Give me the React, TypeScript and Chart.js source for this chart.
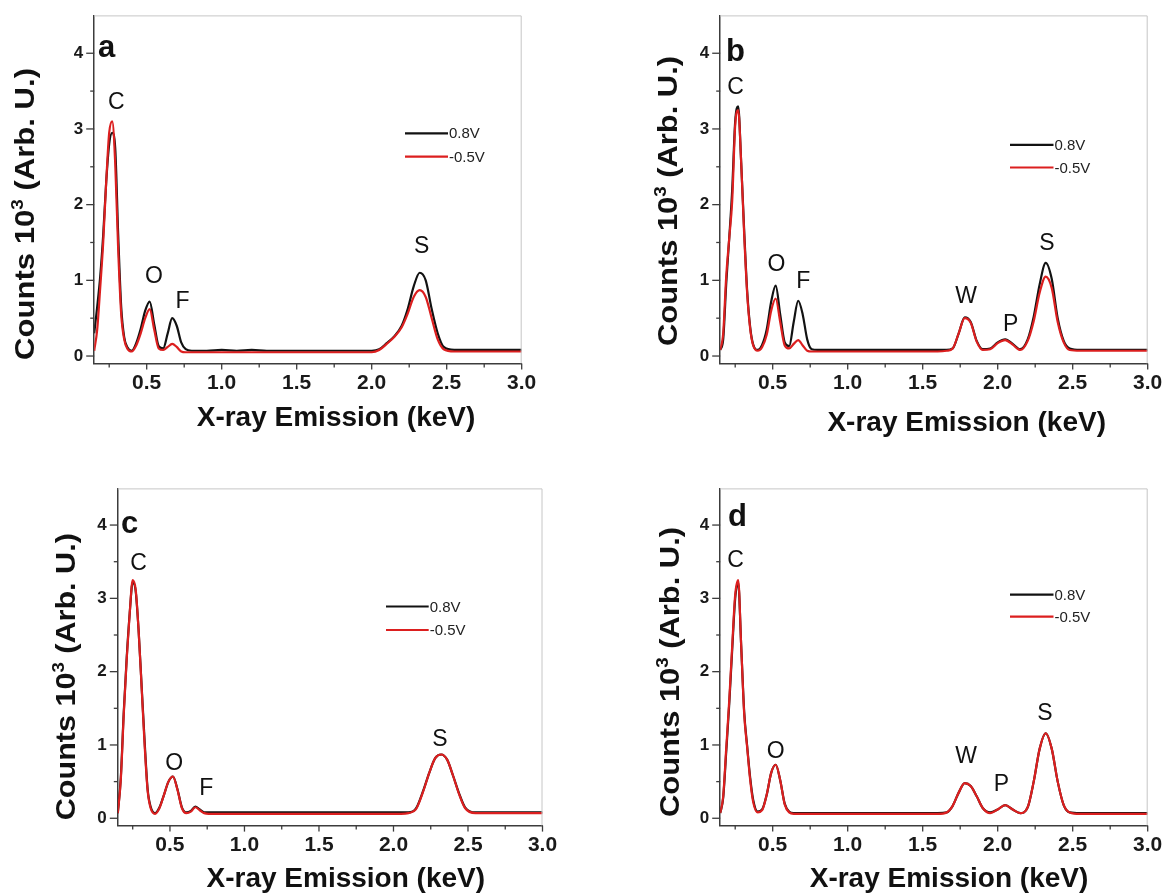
import React, { useEffect, useRef } from 'react';
import { Chart, registerables } from 'chart.js';

Chart.register(...registerables);

const FONT = "'Liberation Sans', Arial, Helvetica, sans-serif";
const BLACK = '#121212';
const RED = '#dc1f1f';
const AXIS = '#3c3c3c';

// ---------------- data ----------------
const energyKeV = [
  0.15, 0.17, 0.19, 0.21, 0.23, 0.25, 0.27, 0.29, 0.31, 0.33, 0.35, 0.37, 0.40,
  0.43, 0.46, 0.49, 0.52, 0.55, 0.58, 0.61, 0.64, 0.67, 0.70, 0.73, 0.76, 0.80,
  0.90, 1.00, 1.10, 1.20, 1.30, 1.40, 1.50, 1.60,
  1.66, 1.70, 1.74, 1.78, 1.82, 1.86, 1.90, 1.95,
  2.00, 2.05, 2.10, 2.15, 2.20,
  2.24, 2.28, 2.32, 2.36, 2.40, 2.44, 2.48,
  2.55, 2.65, 2.75, 2.85, 3.00,
];

const panelA_08V = [
  0.30, 0.65, 1.05, 1.60, 2.30, 2.80, 2.95, 2.75, 1.60, 0.65, 0.25, 0.12, 0.07,
  0.17, 0.36, 0.60, 0.72, 0.42, 0.13, 0.10, 0.30, 0.50, 0.40, 0.18, 0.09, 0.07,
  0.07, 0.08, 0.07, 0.08, 0.07, 0.07, 0.07, 0.07,
  0.07, 0.07, 0.07, 0.07, 0.07, 0.07, 0.07, 0.07,
  0.07, 0.09, 0.17, 0.26, 0.40,
  0.62, 0.92, 1.10, 1.00, 0.62, 0.30, 0.12,
  0.08, 0.08, 0.08, 0.08, 0.08,
];
const panelA_m05V = [
  0.07, 0.35, 0.90, 1.50, 2.30, 2.95, 3.10, 2.55, 1.40, 0.55, 0.22, 0.10, 0.06,
  0.14, 0.30, 0.50, 0.62, 0.35, 0.10, 0.08, 0.12, 0.16, 0.12, 0.06, 0.05, 0.05,
  0.05, 0.05, 0.05, 0.05, 0.05, 0.05, 0.05, 0.05,
  0.05, 0.05, 0.05, 0.05, 0.05, 0.05, 0.05, 0.05,
  0.05, 0.08, 0.16, 0.25, 0.38,
  0.56, 0.78, 0.87, 0.78, 0.50, 0.22, 0.09,
  0.06, 0.06, 0.06, 0.06, 0.06,
];

const panelB_08V = [
  0.08, 0.22, 0.95, 1.55, 2.20, 3.10, 3.30, 2.55, 1.65, 0.85, 0.38, 0.15, 0.08,
  0.15, 0.35, 0.72, 0.93, 0.55, 0.18, 0.13, 0.45, 0.73, 0.55, 0.22, 0.09, 0.08,
  0.08, 0.08, 0.08, 0.08, 0.08, 0.08, 0.08, 0.08,
  0.08, 0.10, 0.30, 0.51, 0.45, 0.20, 0.09, 0.10,
  0.18, 0.22, 0.16, 0.09, 0.22,
  0.52, 0.95, 1.23, 1.02, 0.50, 0.20, 0.10,
  0.08, 0.08, 0.08, 0.08, 0.08,
];
const panelB_m05V = [
  0.08, 0.30, 1.05, 1.55, 2.05, 3.05, 3.25, 2.55, 1.60, 0.82, 0.36, 0.14, 0.07,
  0.12, 0.28, 0.60, 0.76, 0.45, 0.14, 0.10, 0.16, 0.21, 0.14, 0.07, 0.06, 0.06,
  0.06, 0.06, 0.06, 0.06, 0.06, 0.06, 0.06, 0.06,
  0.07, 0.10, 0.30, 0.50, 0.44, 0.19, 0.08, 0.09,
  0.17, 0.21, 0.15, 0.08, 0.20,
  0.46, 0.84, 1.05, 0.90, 0.45, 0.18, 0.08,
  0.07, 0.07, 0.07, 0.07, 0.07,
];

const panelC_08V = [
  0.07, 0.55, 1.45, 2.20, 2.80, 3.22, 3.10, 2.55, 1.80, 1.05, 0.40, 0.16, 0.07,
  0.15, 0.32, 0.50, 0.57, 0.40, 0.15, 0.08, 0.10, 0.16, 0.12, 0.08, 0.08, 0.08,
  0.08, 0.08, 0.08, 0.08, 0.08, 0.08, 0.08, 0.08,
  0.08, 0.08, 0.08, 0.08, 0.08, 0.08, 0.08, 0.08,
  0.08, 0.08, 0.08, 0.13, 0.38,
  0.62, 0.82, 0.87, 0.80, 0.58, 0.34, 0.15,
  0.08, 0.08, 0.08, 0.08, 0.08,
];
const panelC_m05V = [
  0.07, 0.52, 1.42, 2.18, 2.80, 3.25, 3.12, 2.55, 1.78, 1.00, 0.38, 0.14, 0.06,
  0.14, 0.32, 0.50, 0.57, 0.39, 0.14, 0.07, 0.09, 0.15, 0.11, 0.07, 0.06, 0.06,
  0.06, 0.06, 0.06, 0.06, 0.06, 0.06, 0.06, 0.06,
  0.06, 0.06, 0.06, 0.06, 0.06, 0.06, 0.06, 0.06,
  0.06, 0.06, 0.07, 0.12, 0.37,
  0.62, 0.82, 0.87, 0.80, 0.58, 0.33, 0.14,
  0.07, 0.07, 0.07, 0.07, 0.07,
];

const panelD_08V = [
  0.07, 0.28, 0.90, 1.55, 2.30, 3.00, 3.22, 2.35, 1.45, 0.98, 0.55, 0.25, 0.09,
  0.12, 0.32, 0.62, 0.73, 0.52, 0.20, 0.09, 0.07, 0.07, 0.07, 0.07, 0.07, 0.07,
  0.07, 0.07, 0.07, 0.07, 0.07, 0.07, 0.07, 0.07,
  0.08, 0.17, 0.35, 0.48, 0.44, 0.30, 0.14, 0.08,
  0.12, 0.18, 0.12, 0.07, 0.15,
  0.50, 0.95, 1.16, 0.95, 0.50, 0.18, 0.08,
  0.07, 0.07, 0.07, 0.07, 0.07,
];
const panelD_m05V = [
  0.07, 0.30, 0.95, 1.60, 2.35, 3.05, 3.25, 2.35, 1.42, 0.96, 0.52, 0.22, 0.08,
  0.11, 0.32, 0.62, 0.73, 0.52, 0.19, 0.08, 0.06, 0.06, 0.06, 0.06, 0.06, 0.06,
  0.06, 0.06, 0.06, 0.06, 0.06, 0.06, 0.06, 0.06,
  0.08, 0.17, 0.35, 0.48, 0.44, 0.30, 0.14, 0.07,
  0.12, 0.18, 0.12, 0.07, 0.15,
  0.50, 0.95, 1.16, 0.95, 0.50, 0.18, 0.08,
  0.06, 0.06, 0.06, 0.06, 0.06,
];

// axes
const xMajorTicks = [0.5, 1.0, 1.5, 2.0, 2.5, 3.0];
const xMinorTicks = [0.25, 0.75, 1.25, 1.75, 2.25, 2.75];
const yMajorTicks = [0, 1, 2, 3, 4];
const yMinorTicks = [0.5, 1.5, 2.5, 3.5];
const X_MIN = 0.15;
const X_MAX = 3.0;
const Y_MIN = -0.1;
const Y_MAX = 4.5;

const seriesLabels = ['0.8V', '-0.5V'];
const xAxisTitle = 'X-ray Emission (keV)';
const yAxisTitleMain = 'Counts 10';
const yAxisTitleSup = '3';
const yAxisTitleTail = ' (Arb. U.)';

// peak labels: [element, keV, counts]
const peaksA: [string, number, number][] = [
  ['C', 0.298, 3.35], ['O', 0.548, 1.05], ['F', 0.738, 0.72], ['S', 2.333, 1.45],
];
const peaksB: [string, number, number][] = [
  ['C', 0.252, 3.55], ['O', 0.525, 1.21], ['F', 0.703, 0.98],
  ['W', 1.79, 0.79], ['P', 2.087, 0.41], ['S', 2.328, 1.49],
];
const peaksC: [string, number, number][] = [
  ['C', 0.29, 3.48], ['O', 0.529, 0.75], ['F', 0.744, 0.41], ['S', 2.312, 1.07],
];
const peaksD: [string, number, number][] = [
  ['C', 0.252, 3.52], ['O', 0.52, 0.91], ['W', 1.79, 0.84], ['P', 2.025, 0.46], ['S', 2.315, 1.43],
];

// ---------------- layout ----------------
type Layout = {
  left: number; top: number; w: number; h: number;
  padTop: number; yAxisW: number; padRight: number; xAxisH: number;
  yTitle: { cx: number; cy: number; len: number };
  xTitle: { cx: number; y: number };
  letterPos: { x: number; y: number };
  legend: { x1: number; x2: number; y1: number; y2: number };
};

const panels: { letter: string; high: number[]; low: number[]; peaks: [string, number, number][]; L: Layout }[] = [
  {
    letter: 'a', high: panelA_08V, low: panelA_m05V, peaks: peaksA,
    L: {
      left: 0, top: 0, w: 581, h: 446, padTop: 15.4, yAxisW: 94.2, padRight: 59.3, xAxisH: 82.4,
      yTitle: { cx: 24, cy: 214, len: 292 }, xTitle: { cx: 336, y: 426 }, letterPos: { x: 98, y: 57 },
      legend: { x1: 405, x2: 448, y1: 133.3, y2: 156.7 },
    },
  },
  {
    letter: 'b', high: panelB_08V, low: panelB_m05V, peaks: peaksB,
    L: {
      left: 581, top: 0, w: 581, h: 446, padTop: 15.4, yAxisW: 139.2, padRight: 14.3, xAxisH: 82.4,
      yTitle: { cx: 85.7, cy: 201, len: 290 }, xTitle: { cx: 385.7, y: 431 }, letterPos: { x: 145, y: 61 },
      legend: { x1: 429, x2: 472.5, y1: 144.8, y2: 167.5 },
    },
  },
  {
    letter: 'c', high: panelC_08V, low: panelC_m05V, peaks: peaksC,
    L: {
      left: 0, top: 446, w: 581, h: 447, padTop: 42.4, yAxisW: 117.8, padRight: 38.5, xAxisH: 67.4,
      yTitle: { cx: 65, cy: 230.7, len: 287 }, xTitle: { cx: 345.8, y: 441 }, letterPos: { x: 121, y: 87 },
      legend: { x1: 386, x2: 428.7, y1: 160.5, y2: 184 },
    },
  },
  {
    letter: 'd', high: panelD_08V, low: panelD_m05V, peaks: peaksD,
    L: {
      left: 581, top: 446, w: 581, h: 447, padTop: 42.4, yAxisW: 139.2, padRight: 14.3, xAxisH: 67.4,
      yTitle: { cx: 88, cy: 226, len: 290 }, xTitle: { cx: 368, y: 441 }, letterPos: { x: 147, y: 80 },
      legend: { x1: 429, x2: 472.5, y1: 148.7, y2: 170.7 },
    },
  },
];

// ---------------- decoration plugin ----------------
const decorPlugin = {
  id: 'decor',
  afterDraw(chart: any, _args: any, opts: any) {
    const { ctx, chartArea: ca, scales } = chart;
    const xs = scales.x;
    const ys = scales.y;
    const L: Layout = opts.L;
    ctx.save();

    // light frame (top / right)
    ctx.strokeStyle = '#c6c6c6';
    ctx.lineWidth = 1;
    ctx.beginPath();
    ctx.moveTo(ca.left, ca.top + 0.5);
    ctx.lineTo(ca.right - 0.5, ca.top + 0.5);
    ctx.lineTo(ca.right - 0.5, ca.bottom);
    ctx.stroke();

    // tick marks
    ctx.strokeStyle = AXIS;
    ctx.lineWidth = 1.3;
    const xt = (v: number, len: number) => {
      const px = xs.getPixelForValue(v);
      ctx.beginPath(); ctx.moveTo(px, ca.bottom); ctx.lineTo(px, ca.bottom + len); ctx.stroke();
    };
    const yt = (v: number, len: number) => {
      const py = ys.getPixelForValue(v);
      ctx.beginPath(); ctx.moveTo(ca.left - len, py); ctx.lineTo(ca.left, py); ctx.stroke();
    };
    xMajorTicks.forEach((v) => xt(v, 6));
    xMinorTicks.forEach((v) => xt(v, 4));
    yMajorTicks.forEach((v) => yt(v, 8));
    yMinorTicks.forEach((v) => yt(v, 4));

    ctx.fillStyle = '#111';

    // y title
    const big = `bold 28px ${FONT}`;
    const small = `bold 17px ${FONT}`;
    ctx.font = big;
    const w1 = ctx.measureText(yAxisTitleMain).width;
    const w3 = ctx.measureText(yAxisTitleTail).width;
    ctx.font = small;
    const w2 = ctx.measureText(yAxisTitleSup).width;
    const total = w1 + w2 + w3;
    const stretch = L.yTitle.len / total;
    ctx.save();
    ctx.translate(L.yTitle.cx, L.yTitle.cy);
    ctx.rotate(-Math.PI / 2);
    ctx.scale(stretch, 1);
    ctx.textBaseline = 'alphabetic';
    ctx.textAlign = 'left';
    const base = 10;
    let sx = -total / 2;
    ctx.font = big;
    ctx.fillText(yAxisTitleMain, sx, base);
    sx += w1;
    ctx.font = small;
    ctx.fillText(yAxisTitleSup, sx, base - 11);
    sx += w2;
    ctx.font = big;
    ctx.fillText(yAxisTitleTail, sx, base);
    ctx.restore();

    // x title
    ctx.font = big;
    ctx.textAlign = 'center';
    ctx.textBaseline = 'alphabetic';
    ctx.fillText(xAxisTitle, L.xTitle.cx, L.xTitle.y);

    // panel letter
    ctx.font = `bold 31px ${FONT}`;
    ctx.textAlign = 'left';
    ctx.fillText(opts.letter, L.letterPos.x, L.letterPos.y);

    // peak labels
    ctx.font = `23px ${FONT}`;
    ctx.textAlign = 'center';
    ctx.textBaseline = 'middle';
    (opts.peaks as [string, number, number][]).forEach(([t, x, y]) => {
      ctx.fillText(t, xs.getPixelForValue(x), ys.getPixelForValue(y));
    });

    // legend
    const lg = L.legend;
    ctx.lineWidth = 2.2;
    ctx.strokeStyle = BLACK;
    ctx.beginPath(); ctx.moveTo(lg.x1, lg.y1); ctx.lineTo(lg.x2, lg.y1); ctx.stroke();
    ctx.strokeStyle = RED;
    ctx.beginPath(); ctx.moveTo(lg.x1, lg.y2); ctx.lineTo(lg.x2, lg.y2); ctx.stroke();
    ctx.font = `15px ${FONT}`;
    ctx.textAlign = 'left';
    ctx.textBaseline = 'middle';
    ctx.fillStyle = '#222';
    ctx.fillText(seriesLabels[0], lg.x2 + 1, lg.y1 + 1);
    ctx.fillText(seriesLabels[1], lg.x2 + 1, lg.y2 + 1);

    ctx.restore();
  },
};

function toPoints(ys: number[]) {
  return energyKeV.map((x, i) => ({ x, y: ys[i] }));
}

function Panel({ p }: { p: (typeof panels)[number] }) {
  const ref = useRef<HTMLCanvasElement | null>(null);
  useEffect(() => {
    if (!ref.current) return;
    const L = p.L;
    const chart = new Chart(ref.current, {
      type: 'line',
      data: {
        datasets: [
          {
            label: seriesLabels[1], data: toPoints(p.low), borderColor: RED, borderWidth: 2.2,
            pointRadius: 0, cubicInterpolationMode: 'monotone', fill: false,
          },
          {
            label: seriesLabels[0], data: toPoints(p.high), borderColor: BLACK, borderWidth: 2.2,
            pointRadius: 0, cubicInterpolationMode: 'monotone', fill: false,
          },
        ],
      },
      options: {
        responsive: false,
        animation: false,
        devicePixelRatio: 1,
        layout: { padding: { left: 0, top: L.padTop, right: L.padRight, bottom: 0 } },
        plugins: {
          legend: { display: false },
          tooltip: { enabled: false },
          decor: { L, letter: p.letter, peaks: p.peaks },
        } as any,
        scales: {
          x: {
            type: 'linear', min: X_MIN, max: X_MAX,
            grid: { display: false, drawTicks: false },
            border: { display: true, color: AXIS, width: 1.5 },
            ticks: {
              padding: 7, color: '#1a1a1a', autoSkip: false, maxRotation: 0,
              font: { family: FONT, size: 21, weight: 'bold' },
              callback: (v: any) => Number(v).toFixed(1),
            },
            afterBuildTicks: (s: any) => { s.ticks = xMajorTicks.map((value) => ({ value })); },
            afterFit: (s: any) => { s.height = L.xAxisH; s.paddingLeft = 0; s.paddingRight = 0; },
          },
          y: {
            type: 'linear', min: Y_MIN, max: Y_MAX,
            grid: { display: false, drawTicks: false },
            border: { display: true, color: AXIS, width: 1.5 },
            ticks: {
              padding: 11, color: '#1a1a1a', autoSkip: false,
              font: { family: FONT, size: 17, weight: 'bold' },
              callback: (v: any) => String(v),
            },
            afterBuildTicks: (s: any) => { s.ticks = yMajorTicks.map((value) => ({ value })); },
            afterFit: (s: any) => { s.width = L.yAxisW; s.paddingTop = 0; s.paddingBottom = 0; },
          },
        },
      } as any,
      plugins: [decorPlugin],
    });
    return () => chart.destroy();
  }, [p]);
  const L = p.L;
  return (
    <canvas
      ref={ref}
      width={L.w}
      height={L.h}
      style={{ position: 'absolute', left: L.left, top: L.top, width: L.w, height: L.h }}
    />
  );
}

export default function App() {
  return (
    <div style={{ position: 'absolute', left: 0, top: 0, width: 1162, height: 893, background: '#fff', overflow: 'hidden' }}>
      {panels.map((p) => (
        <Panel key={p.letter} p={p} />
      ))}
    </div>
  );
}
